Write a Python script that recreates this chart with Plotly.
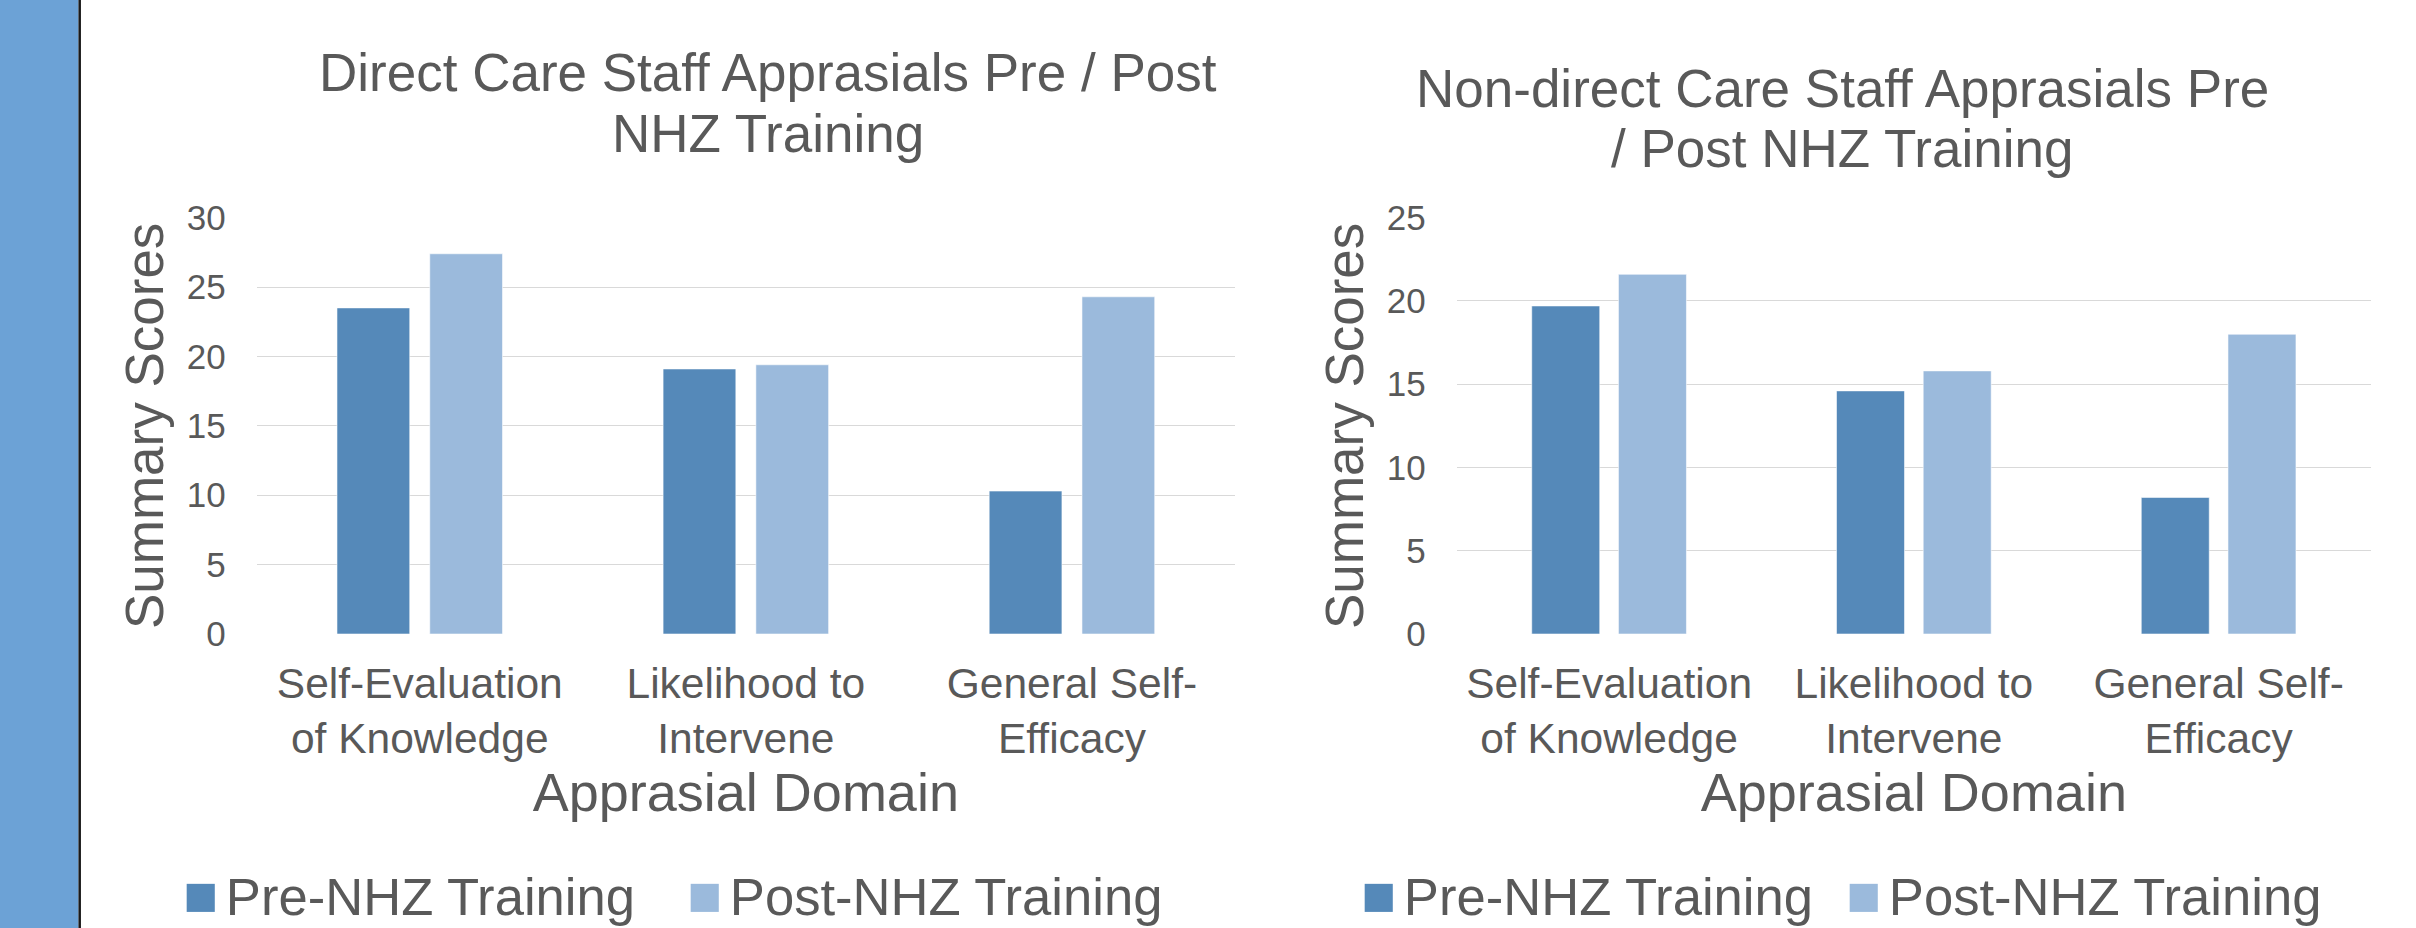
import plotly.graph_objects as go

# ---------------- data ----------------
categories = ["Self-Evaluation<br>of Knowledge", "Likelihood to<br>Intervene", "General Self-<br>Efficacy"]
series_names = ["Pre-NHZ Training", "Post-NHZ Training"]

direct_pre = [23.5, 19.1, 10.3]
direct_post = [27.4, 19.4, 24.3]

nondirect_pre = [19.7, 14.6, 8.2]
nondirect_post = [21.6, 15.8, 18.0]

direct_ticks = [0, 5, 10, 15, 20, 25, 30]
nondirect_ticks = [0, 5, 10, 15, 20, 25]

title_direct = ["Direct Care Staff Apprasials Pre / Post", "NHZ Training"]
title_nondirect = ["Non-direct Care Staff Apprasials Pre", "/ Post NHZ Training"]
x_title = "Apprasial Domain"
y_title = "Summary Scores"

# ---------------- style ----------------
W, H = 2416, 928
FONT = "Liberation Sans, Arial, sans-serif"
TXT = "#595959"
GRID = "#D9D9D9"
PRE_C = "#5589B9"
POST_C = "#9BBADC"
colors = [PRE_C, POST_C]


def px_x(x):
    return x / W


def px_y(y):
    return 1 - y / H


fig = go.Figure()

# each legend entry gets its own legend box so it can be placed like the original
panels = [
    dict(xa="x", ya="y", legs=["legend", "legend2"], legx=[188, 692],
         pre=direct_pre, post=direct_post),
    dict(xa="x2", ya="y2", legs=["legend3", "legend4"], legx=[1366, 1851],
         pre=nondirect_pre, post=nondirect_post),
]

for p in panels:
    for name, vals, col in zip(series_names, [p["pre"], p["post"]], colors):
        fig.add_trace(go.Bar(
            x=categories, y=vals, name=name,
            marker=dict(color=col, line=dict(color="rgba(255,255,255,0.55)", width=1)),
            xaxis=p["xa"], yaxis=p["ya"], showlegend=False,
        ))
    # legend entries (large square swatch drawn as a text glyph)
    for name, col, leg in zip(series_names, colors, p["legs"]):
        fig.add_trace(go.Scatter(
            x=[None], y=[None], mode="markers",
            marker=dict(color="rgba(0,0,0,0)", size=1, line=dict(width=0)),
            name=(f'<span style="color:{col};font-size:58px">■</span>'
                  f'<span style="font-size:28px"> </span>{name}'),
            xaxis=p["xa"], yaxis=p["ya"], legend=leg, showlegend=True,
        ))

common_x = dict(
    type="category", categoryorder="array", categoryarray=categories,
    showgrid=False, zeroline=False, showline=False, ticks="",
    tickfont=dict(family=FONT, size=42.5, color=TXT),
    ticklabelstandoff=20,
    title=dict(text=x_title, font=dict(family=FONT, size=54, color=TXT), standoff=9),
)
common_y = dict(
    showgrid=True, gridcolor=GRID, gridwidth=1.4, zeroline=False, showline=False, ticks="",
    tickfont=dict(family=FONT, size=35, color=TXT),
    ticklabelstandoff=30,
    title=dict(text=y_title, font=dict(family=FONT, size=53, color=TXT), standoff=6),
)

leg_common = dict(
    orientation="h", xanchor="left", yanchor="middle",
    font=dict(family=FONT, size=52.6, color=TXT),
    bgcolor="rgba(0,0,0,0)", itemwidth=30,
    itemclick=False, itemdoubleclick=False,
)

legends = {}
for p in panels:
    for leg, sx in zip(p["legs"], p["legx"]):
        legends[leg] = dict(leg_common, x=px_x(sx - 45), y=px_y(895))

annotations = []
for lines, cx, ys in [(title_direct, 768, [72.6, 133.3]), (title_nondirect, 1842, [88.9, 148.9])]:
    for line, yy in zip(lines, ys):
        annotations.append(dict(
            text=line, x=px_x(cx), y=px_y(yy), xref="paper", yref="paper",
            xanchor="center", yanchor="middle", showarrow=False,
            font=dict(family=FONT, size=53, color=TXT),
        ))

fig.update_layout(
    width=W, height=H,
    margin=dict(l=0, r=0, t=0, b=0, autoexpand=False),
    paper_bgcolor="white", plot_bgcolor="white",
    barmode="group", bargap=0.431, bargroupgap=0.216,
    xaxis=dict(common_x, domain=[px_x(256.7), px_x(1235)], anchor="y"),
    yaxis=dict(common_y, domain=[px_y(634), px_y(217.7)], range=[0, 30],
               tickvals=direct_ticks, anchor="x"),
    xaxis2=dict(common_x, domain=[px_x(1456.7), px_x(2371)], anchor="y2"),
    yaxis2=dict(common_y, domain=[px_y(634), px_y(217.7)], range=[0, 25],
                tickvals=nondirect_ticks, anchor="x2"),
    annotations=annotations,
    shapes=[
        dict(type="rect", xref="paper", yref="paper", x0=0, x1=px_x(78.5), y0=0, y1=1,
             fillcolor="#6CA2D6", line=dict(width=0), layer="below"),
        dict(type="line", xref="paper", yref="paper", x0=px_x(79.7), x1=px_x(79.7), y0=0, y1=1,
             line=dict(color="#1A1A1A", width=2.5)),
    ],
    **legends,
)

fig.write_html(
    "out.html",
    config={"displayModeBar": False},
    post_script="document.body.style.margin='0';document.body.style.overflow='hidden';",
)
